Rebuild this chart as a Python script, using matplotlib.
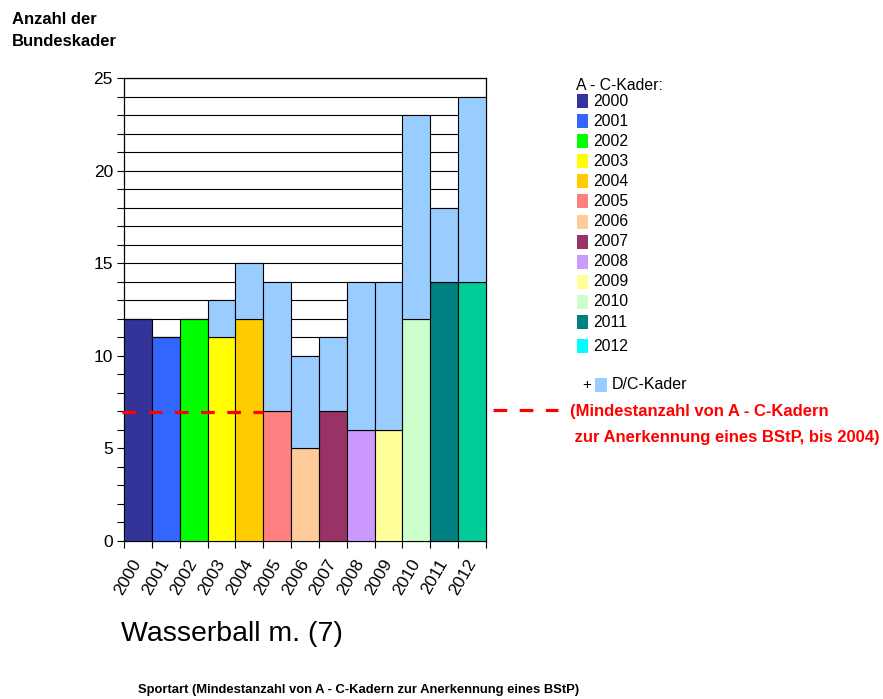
"""
Bundeskader chart -- Wasserball m.
"""

import matplotlib
matplotlib.use("Agg")
import matplotlib.pyplot as plt
from matplotlib.lines import Line2D
from matplotlib.patches import Rectangle

plt.rcParams["font.family"] = ["Liberation Sans", "DejaVu Sans"]

# ── Data ──────────────────────────────────────────────────────────────────────
years = ["2000", "2001", "2002", "2003", "2004", "2005", "2006",
         "2007", "2008", "2009", "2010", "2011", "2012"]
a_c_kader = [12, 11, 12, 11, 12, 7, 5, 7, 6, 6, 12, 14, 14]
total_kader = [12, 11, 12, 13, 15, 14, 10, 11, 14, 14, 23, 18, 24]
min_ac = 6.95   # Mindestanzahl A-C-Kader (bis 2004)

# ── Palette ───────────────────────────────────────────────────────────────────
YEAR_COLORS = ["#333399", "#3366FF", "#00FF00", "#FFFF00", "#FFCC00",
               "#FF8080", "#FFCC99", "#993366", "#CC99FF", "#FFFF99",
               "#CCFFCC", "#008080", "#00CC99"]
LEGEND_COLORS = YEAR_COLORS[:-1] + ["#00FFFF"]
C_DC = "#99CCFF"
C_RED = "#FF0000"

W, H = 883, 699
fig = plt.figure(figsize=(W / 100, H / 100), dpi=100, facecolor="white")

def fx(px):
    return px / W

def fy(py):
    return 1 - py / H

ax = fig.add_axes([fx(124), fy(541), fx(486) - fx(124), fy(78) - fy(541)])

x = list(range(len(years)))
d_c_kader = [t - a for t, a in zip(total_kader, a_c_kader)]

ax.bar(x, a_c_kader, width=1.0, color=YEAR_COLORS, edgecolor="black",
       linewidth=0.8, zorder=3)
ax.bar(x, d_c_kader, bottom=a_c_kader, width=1.0, color=C_DC,
       edgecolor="black", linewidth=0.8, zorder=3)

for v in range(1, 26):
    ax.axhline(v, color="black", lw=0.8, zorder=1)

ax.set_xlim(-0.5, len(years) - 0.5)
ax.set_ylim(0, 25)
ax.set_yticks(range(0, 26, 5))
ax.set_yticks(range(0, 26), minor=True)
ax.tick_params(axis="y", which="both", direction="out", length=5,
               width=0.8, labelsize=12.5, pad=3)

ax.set_xticks(x)
ax.set_xticklabels(years, rotation=60, ha="right", va="center",
                   rotation_mode="anchor", fontsize=12.5)
ax.set_xticks([i - 0.5 for i in range(len(years) + 1)], minor=True)
ax.tick_params(axis="x", which="major", length=0, pad=14)
ax.tick_params(axis="x", which="minor", direction="out", length=5, width=0.8)
for s in ax.spines.values():
    s.set_linewidth(0.9)

# red dashed minimum line, inside the plot up to 2004 ...
ax.plot([-0.58, 4.5], [min_ac, min_ac], color=C_RED, lw=2.3,
        dashes=(4.3, 3.9), clip_on=False, zorder=5)
# ... and repeated beside the legend
fig.add_artist(Line2D([fx(493), fx(558)], [fy(410), fy(410)], color=C_RED,
                      lw=2.3, dashes=(4.3, 3.9)))

# ── Legend ────────────────────────────────────────────────────────────────────
fig.text(fx(576), fy(86), "A - C-Kader:", fontsize=11.3, va="center")
for i, (yr, col) in enumerate(zip(years, LEGEND_COLORS)):
    yc = 101 + i * 20.1 + (4 if i == len(years) - 1 else 0)
    fig.add_artist(Rectangle((fx(577), fy(yc + 7)), fx(11), 14 / H,
                             facecolor=col, edgecolor="none"))
    fig.text(fx(593), fy(yc), yr, fontsize=11.3, va="center")

fig.text(fx(582), fy(385), "+", fontsize=11, va="center")
fig.add_artist(Rectangle((fx(595), fy(392)), fx(12), 14 / H,
                         facecolor=C_DC, edgecolor="none"))
fig.text(fx(612), fy(385), "D/C-Kader", fontsize=11.5, va="center")

fig.text(fx(570), fy(412), "(Mindestanzahl von A - C-Kadern",
         fontsize=12, fontweight="bold", color=C_RED, va="center")
fig.text(fx(570), fy(437), " zur Anerkennung eines BStP, bis 2004)",
         fontsize=12, fontweight="bold", color=C_RED, va="center")

# ── Titles ────────────────────────────────────────────────────────────────────
fig.text(fx(12), fy(19), "Anzahl der", fontsize=12, fontweight="bold",
         va="center")
fig.text(fx(12), fy(42), "Bundeskader", fontsize=12, fontweight="bold",
         va="center")
fig.text(fx(121), fy(634), "Wasserball m. (7)", fontsize=20.5, va="center")
fig.text(fx(138), fy(690),
         "Sportart (Mindestanzahl von A - C-Kadern zur Anerkennung eines BStP)",
         fontsize=9.4, fontweight="bold", va="center")

fig.savefig("out.png", dpi=100, facecolor="white")
